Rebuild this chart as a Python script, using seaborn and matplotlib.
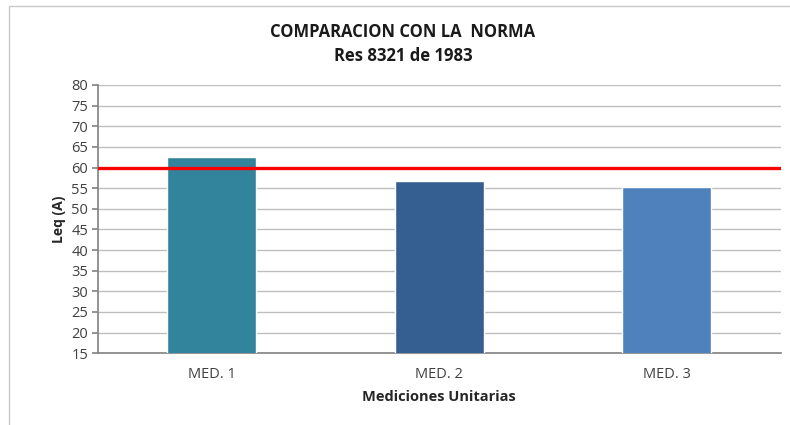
import pandas as pd
import numpy as np
import matplotlib.pyplot as plt
import seaborn as sns

mediciones = ['MED. 1', 'MED. 2', 'MED. 3']
leq = [62.5, 56.8, 55.2]
norma = 60
colores = ['#31849B', '#365F91', '#4F81BD']
yticks = list(range(15, 81, 5))

df = pd.DataFrame({'med': mediciones, 'leq': leq})

sns.set_theme(style='white')
plt.rcParams['font.family'] = ['Open Sans', 'DejaVu Sans']

fig = plt.figure(figsize=(7.9, 4.25), dpi=100)
ax = fig.add_axes([0.124, 0.169, 0.864, 0.631])

sns.barplot(data=df, x='med', y='leq', hue='med', palette=colores,
            width=0.39, legend=False, ax=ax, saturation=1, zorder=3)

ax.axhline(norma, color='#FF0000', lw=2.4, zorder=4)

ax.set_ylim(15, 80)
ax.set_yticks(yticks)
ax.set_xlim(-0.5, 2.5)
ax.yaxis.grid(True, color='#BFBFBF', lw=1)
ax.set_axisbelow(True)
for s in ['top', 'right']:
    ax.spines[s].set_visible(False)
ax.spines['left'].set_color('#868686')
ax.spines['bottom'].set_color('#868686')
ax.tick_params(axis='y', length=4, color='#868686', labelsize=10.5, labelcolor='#404040', pad=3, left=True)
ax.tick_params(axis='x', length=0, labelsize=10.5, labelcolor='#404040', pad=10)

ax.set_xlabel('Mediciones Unitarias', fontsize=10.5, fontweight='bold', color='#262626', labelpad=6)
ax.set_ylabel('Leq (A)', fontsize=10, fontweight='bold', color='#262626', labelpad=4)

fig.text(0.51, 0.925, 'COMPARACION CON LA  NORMA', ha='center', va='center',
         fontsize=12, fontweight='bold', color='#1a1a1a')
fig.text(0.51, 0.868, 'Res 8321 de 1983', ha='center', va='center',
         fontsize=12, fontweight='bold', color='#1a1a1a')

# marco del grafico
fig.add_artist(plt.Rectangle((0.011, -0.05), 1.2, 1.035, transform=fig.transFigure,
                             fill=False, edgecolor='#C8C8C8', lw=1))

fig.savefig('out.png', dpi=100)
